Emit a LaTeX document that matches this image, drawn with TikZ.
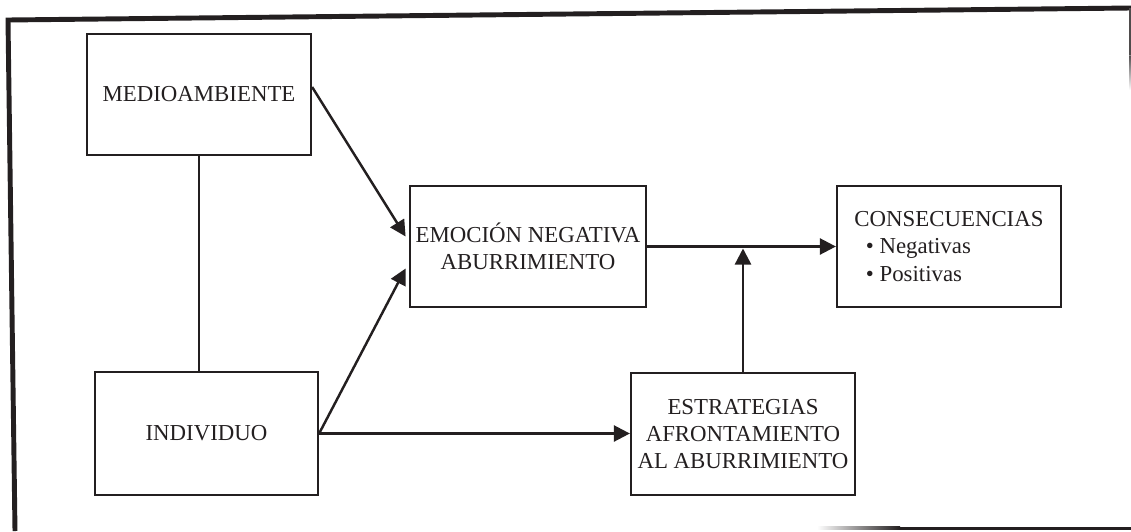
\documentclass[tikz,border=0pt]{standalone}
\usepackage{fontspec}
\setmainfont{Liberation Serif}
\usetikzlibrary{arrows.meta,positioning}
\definecolor{inkdark}{HTML}{231F20}

\begin{document}
\begin{tikzpicture}[x=0.02cm, y=-0.02cm]
    \tikzset{block/.style= {draw, rectangle
    , line width=1.3pt
    , minimum width=4.48cm
    , minimum height=2.42cm
    , align=center
    , font=\fontsize{13}{15.5}\selectfont
      },
      link/.style={draw, line width=1.4pt, -{Triangle[length=0.32cm,width=0.32cm]}}
    }
\useasboundingbox (0,0) rectangle (1131,531);

\draw[inkdark, line width=2.8pt] (15,531) -- (8,20) -- (1131,8);
\draw[inkdark!80, line width=1.2pt] (1130,8) -- (1130,55);
\shade[top color=inkdark!80, bottom color=white] (1129.4,55) rectangle (1130.6,90);
\shade[left color=white, right color=inkdark] (817,526.5) rectangle (900,529.5);
\fill[inkdark] (900,526.5) rectangle (1131,529.5);

\begin{scope}[inkdark]
\node [block] at (199,94.5) (medio) {MEDIOAMBIENTE};
\node [block, minimum width=4.46cm, minimum height=2.46cm] at (206.5,433.5) (indiv) {INDIVIDUO};
\node [block, minimum width=4.64cm] at (528,246.5) (emocion) {EMOCIÓN NEGATIVA\\ABURRIMIENTO};
\node [block, align=left] at (949,246.5) (consec) {CONSECUENCIAS\\\hspace*{0.5em}\textbullet\ Negativas\\\hspace*{0.5em}\textbullet\ Positivas};
\node [block, minimum height=2.44cm] at (743,434) (estrat) {ESTRATEGIAS\\AFRONTAMIENTO\\AL ABURRIMIENTO};

\coordinate (join) at (estrat.north |- emocion.east);

 \path[draw, line width=1.4pt]
  (medio.south) -- (medio.south |- indiv.north);
 \path[link] ([yshift=0.15cm]medio.east) -- ([yshift=0.2cm, xshift=-0.06cm]emocion.west);
 \path[link] (indiv.east) -- ([yshift=-0.44cm, xshift=-0.06cm]emocion.west);
 \path[link] (indiv.east) -- (indiv.east -| estrat.west);
 \path[link] (emocion.east) -- (consec.west);
 \path[link] (estrat.north) -- ([yshift=-0.04cm]join);
\end{scope}
\end{tikzpicture}
\end{document}
